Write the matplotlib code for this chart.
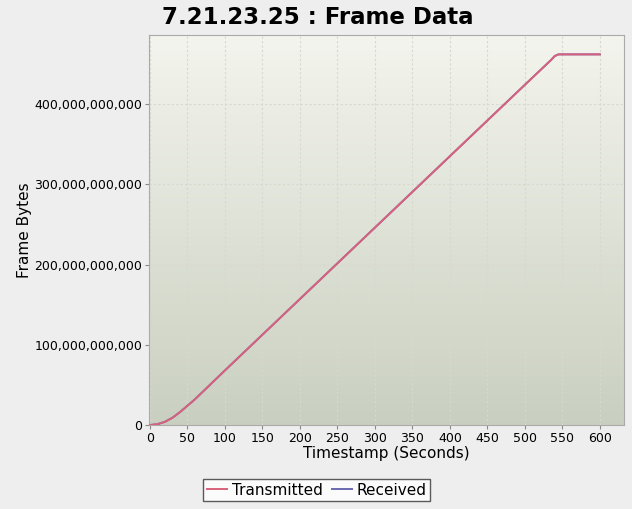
import matplotlib
matplotlib.use("Agg")
import matplotlib.pyplot as plt
import numpy as np
from matplotlib.ticker import FuncFormatter

# timestamps (seconds) and frame bytes
seconds = [0, 10, 20, 30, 40, 50, 60, 100, 200, 300, 400, 500, 535, 540, 545, 600]
transmitted = [0, 1.0e9, 4.0e9, 9.0e9, 16.0e9, 24.0e9, 32.0e9, 68e9, 157e9, 246e9,
               335e9, 424e9, 455e9, 460e9, 462e9, 462e9]
received = transmitted
series_names = ["Transmitted", "Received"]
x_ticks = list(range(0, 601, 50))
y_ticks = [0, 100e9, 200e9, 300e9, 400e9]

fig = plt.figure(figsize=(6.32, 5.09), dpi=100)
fig.patch.set_facecolor("#eeeeee")
ax = fig.add_axes([0.236, 0.165, 0.751, 0.766])

xmin, xmax = -1, 632
ymin, ymax = 0, 486e9

# gradient background
grad = np.linspace(0, 1, 256).reshape(-1, 1)
top = np.array([0.955, 0.958, 0.93])
bot = np.array([0.79, 0.815, 0.755])
img = top + (bot - top) * grad[..., None]
ax.imshow(img, extent=[xmin, xmax, ymin, ymax], aspect="auto", origin="upper", zorder=0)

for xt in x_ticks:
    ax.axvline(xt, color="#d8d8d0", lw=0.8, ls=(0, (2, 2)), zorder=1)
for yt in y_ticks:
    ax.axhline(yt, color="#d8d8d0", lw=0.8, ls=(0, (2, 2)), zorder=1)

ax.plot(seconds, received, color="#6a6ab0", lw=1.4, label=series_names[1], zorder=2)
ax.plot(seconds, transmitted, color="#d9617c", lw=1.4, label=series_names[0], zorder=3)

ax.set_xlim(xmin, xmax)
ax.set_ylim(ymin, ymax)
ax.set_xticks(x_ticks)
ax.set_yticks(y_ticks)
ax.yaxis.set_major_formatter(FuncFormatter(lambda v, p: f"{int(v):,}"))
ax.tick_params(labelsize=9, length=3, color="#888888", pad=2)
for s in ax.spines.values():
    s.set_color("#aaaaaa")

ax.set_xlabel("Timestamp (Seconds)", fontsize=11, labelpad=1)
ax.set_ylabel("Frame Bytes", fontsize=11, labelpad=2)
fig.suptitle("7.21.23.25 : Frame Data", fontsize=16.5, fontweight="bold",
             x=0.503, y=0.966, va="center")

handles, labels = ax.get_legend_handles_labels()
leg = fig.legend(handles[::-1], labels[::-1], loc="center", bbox_to_anchor=(0.501, 0.037),
                 ncol=2, fontsize=11, frameon=True, fancybox=False, handlelength=1.3,
                 handletextpad=0.3, columnspacing=0.6, borderpad=0.25)
leg.get_frame().set_edgecolor("#333333")
leg.get_frame().set_facecolor("white")
leg.get_frame().set_linewidth(1.0)

fig.savefig("out.png", dpi=100, facecolor=fig.get_facecolor())
